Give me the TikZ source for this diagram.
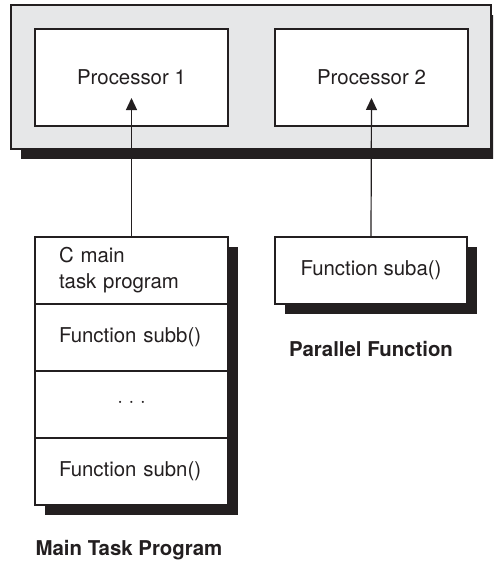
\documentclass[tikz,border=0pt]{standalone}
\usepackage{fontspec}
\setmainfont{TeX Gyre Heros}
\usetikzlibrary{arrows.meta,positioning,shadows}
\definecolor{ink}{HTML}{231F20}
\definecolor{panel}{HTML}{E6E7E8}
\begin{document}
\begin{tikzpicture}[x=1pt,y=-1pt,>={Triangle[length=12pt,width=11pt]},line width=1.2pt,color=ink,
  font=\fontsize{20.4}{26}\selectfont,
  box/.style={draw=ink,fill=white,rectangle,minimum width=193pt,minimum height=67pt,inner sep=0pt,outer sep=0pt},
  shade/.style={drop shadow={shadow xshift=10pt,shadow yshift=-10pt,opacity=1,fill=ink}},
  func/.style={box,align=left,text width=145pt,inner xsep=24pt},
  title/.style={font=\fontsize{20.4}{26}\selectfont\bfseries}]
\clip (0,0) rectangle (493,565);
% processor board
\node[box,fill=panel,line width=1.4pt,minimum width=480pt,minimum height=144pt,shade] (board) at (251,77) {};
\node[box,minimum height=97pt] (proc1) at (131.5,77.5) {Processor 1};
\node[box,minimum height=97pt] (proc2) at (371.5,77.5) {Processor 2};
\coordinate (tip1) at (131.5,98); \coordinate (tip2) at (371.5,98);
% main task program stack
\node[func,shade] (cmain) at (131.5,270.5) {C main\\task program};
\node[func,shade,below=0pt of cmain] (subb) {Function subb()};
\node[box,shade,below=0pt of subb] (dots) {· · ·};
\node[func,shade,below=0pt of dots] (subn) {Function subn()};
% parallel function
\node[box,shade,minimum width=192pt] (suba) at (371,270.5) {Function suba()};
\draw[->] (cmain.north) -- (tip1);
\draw[->] (suba.north) -- (tip2);
\node[title] (mainlbl) at (129,550) {Main Task Program};
\node[title] (parlbl) at (371,349) {Parallel Function};
\end{tikzpicture}
\end{document}
